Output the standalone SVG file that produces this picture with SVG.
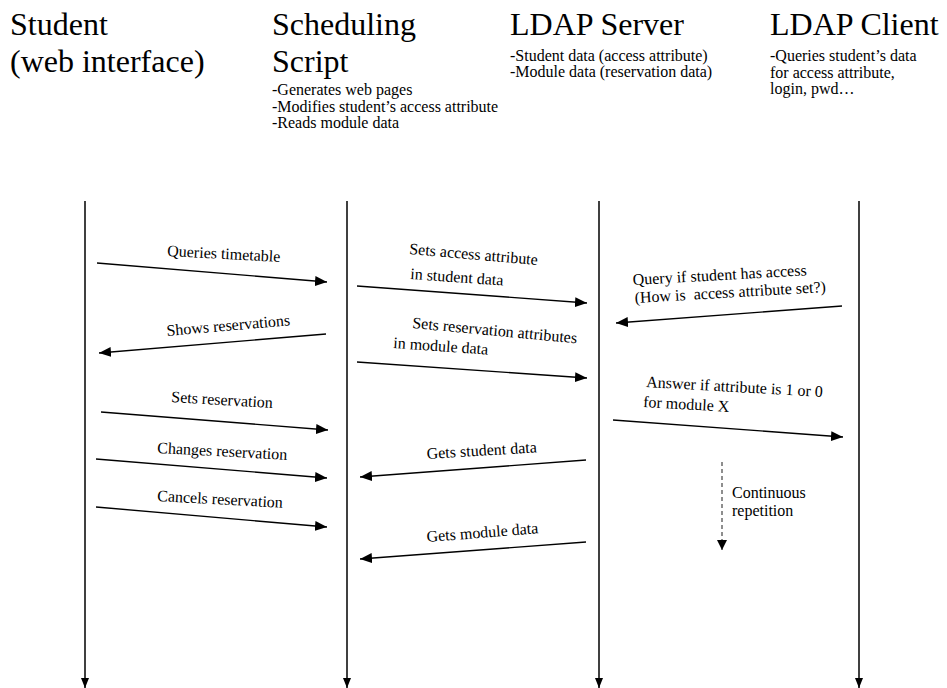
<svg xmlns="http://www.w3.org/2000/svg" width="947" height="688" viewBox="0 0 947 688">
<style>
text{font-family:"Liberation Serif","DejaVu Serif",serif;fill:#000}
.h{font-size:32px}
.s{font-size:16px}
.l{font-size:16px}
.life{stroke:#000;stroke-width:1.5;fill:none}
.msg{stroke:#000;stroke-width:1.4;fill:none;marker-end:url(#ah)}
.dash{stroke:#444;stroke-width:1.2;stroke-dasharray:4 3;fill:none;marker-end:url(#ah2)}
</style>
<defs>
<marker id="ah" markerUnits="userSpaceOnUse" markerWidth="12" markerHeight="10" refX="12" refY="5" orient="auto"><path d="M0,0 L12,5 L0,10 Z" fill="#000"/></marker>
<marker id="al" markerUnits="userSpaceOnUse" markerWidth="10" markerHeight="8" refX="10" refY="4" orient="auto"><path d="M0,0 L10,4 L0,8 Z" fill="#000"/></marker>
<marker id="ah2" markerUnits="userSpaceOnUse" markerWidth="10" markerHeight="10" refX="10" refY="5" orient="auto"><path d="M0,0 L10,5 L0,10 Z" fill="#000"/></marker>
</defs>
<rect width="947" height="688" fill="#fff"/>

<g id="student">
<text class="h" x="10" y="35">Student</text>
<text class="h" x="10" y="72">(web interface)</text>
<line class="life" x1="85" y1="201" x2="85" y2="688" marker-end="url(#al)"/>
</g>
<g id="script">
<text class="h" x="272" y="35">Scheduling</text>
<text class="h" x="272" y="72">Script</text>
<text class="s" x="272" y="95">-Generates web pages</text>
<text class="s" x="272" y="112">-Modifies student’s access attribute</text>
<text class="s" x="272" y="128">-Reads module data</text>
<line class="life" x1="347" y1="201" x2="347" y2="688" marker-end="url(#al)"/>
</g>
<g id="server">
<text class="h" x="510" y="35">LDAP Server</text>
<text class="s" x="510" y="61">-Student data (access attribute)</text>
<text class="s" x="510" y="77">-Module data (reservation data)</text>
<line class="life" x1="599" y1="201" x2="599" y2="688" marker-end="url(#al)"/>
</g>
<g id="client">
<text class="h" x="770" y="35">LDAP Client</text>
<text class="s" x="770" y="61">-Queries student’s data</text>
<text class="s" x="770" y="78">for access attribute,</text>
<text class="s" x="770" y="94">login, pwd…</text>
<line class="life" x1="859" y1="201" x2="859" y2="688" marker-end="url(#al)"/>
</g>

<g id="connectors">
<line class="msg" x1="97" y1="263" x2="327" y2="282"/>
<line class="msg" x1="326" y1="334" x2="99" y2="353"/>
<line class="msg" x1="101" y1="412" x2="328" y2="430"/>
<line class="msg" x1="96" y1="459" x2="327" y2="478"/>
<line class="msg" x1="96" y1="507" x2="327" y2="527"/>
<line class="msg" x1="357" y1="286" x2="587" y2="303"/>
<line class="msg" x1="357" y1="362" x2="587" y2="378"/>
<line class="msg" x1="586" y1="460" x2="360" y2="477"/>
<line class="msg" x1="586" y1="542" x2="360" y2="559"/>
<line class="msg" x1="842" y1="306" x2="616" y2="323"/>
<line class="msg" x1="613" y1="420" x2="843" y2="437"/>
<line class="dash" x1="722" y1="462" x2="722" y2="550"/>
</g>

<g id="labels">
<text class="l" transform="translate(167,256) rotate(3)">Queries timetable</text>
<text class="l" transform="translate(167,336) rotate(-5)">Shows reservations</text>
<text class="l" transform="translate(409,254) rotate(4.9)">Sets access attribute</text>
<text class="l" transform="translate(410,279) rotate(4)">in student data</text>
<text class="l" transform="translate(412,328) rotate(5.3)">Sets reservation attributes</text>
<text class="l" transform="translate(393,348) rotate(4)">in module data</text>
<text class="l" transform="translate(633,285) rotate(-3.2)">Query if student has access</text>
<text class="l" transform="translate(635,303) rotate(-3.3)" xml:space="preserve">(How is  access attribute set?)</text>
<text class="l" transform="translate(646,387) rotate(3.2)">Answer if attribute is 1 or 0</text>
<text class="l" transform="translate(643,407) rotate(3.2)">for module X</text>
<text class="l" transform="translate(171,402) rotate(3.4)">Sets reservation</text>
<text class="l" transform="translate(157,453) rotate(3)">Changes reservation</text>
<text class="l" transform="translate(157,501) rotate(3.1)">Cancels reservation</text>
<text class="l" transform="translate(427,459) rotate(-3.5)">Gets student data</text>
<text class="l" transform="translate(427,542) rotate(-4.5)">Gets module data</text>
<text class="l" x="732" y="498">Continuous</text>
<text class="l" x="732" y="516">repetition</text>
</g>
</svg>
